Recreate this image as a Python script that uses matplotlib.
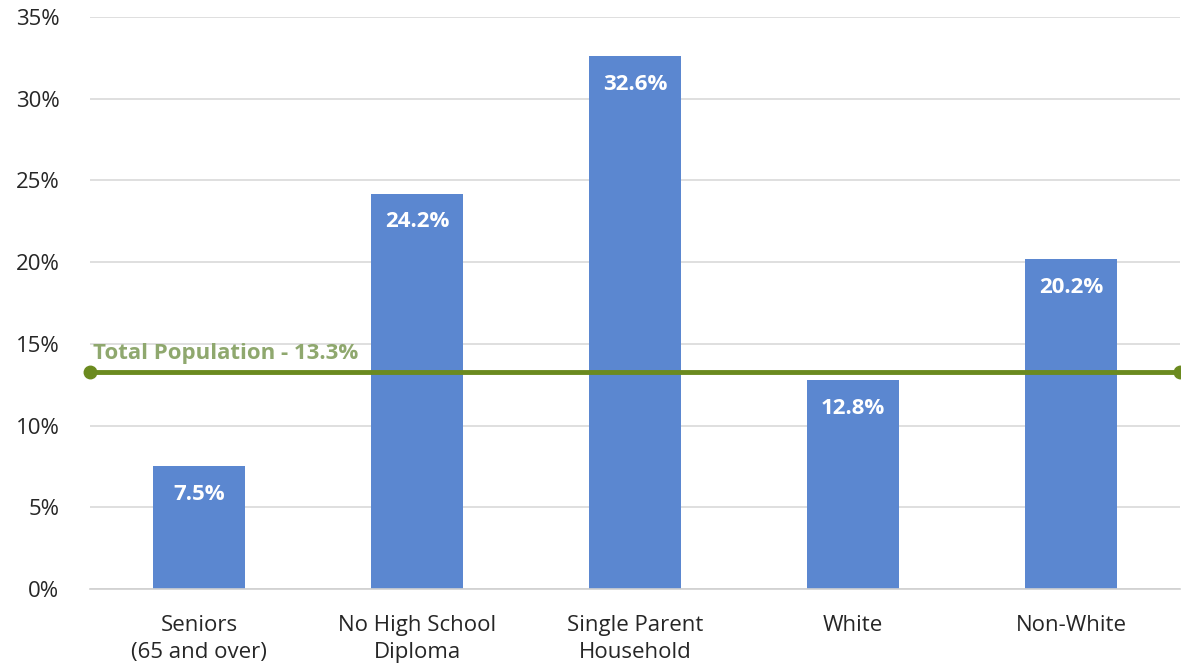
import matplotlib
matplotlib.use("Agg")
import matplotlib.pyplot as plt
from matplotlib.ticker import PercentFormatter

plt.rcParams['font.family'] = ['Open Sans', 'DejaVu Sans']

categories = ["Seniors\n(65 and over)", "No High School\nDiploma", "Single Parent\nHousehold", "White", "Non-White"]
rates = [7.5, 24.2, 32.6, 12.8, 20.2]
total_rate = 13.3
total_label = "Total Population - 13.3%"
y_ticks = [0, 5, 10, 15, 20, 25, 30, 35]

bar_color = "#5b87d0"
line_color = "#6b8a1f"
label_color = "#8fa86e"

fig = plt.figure(figsize=(11.81, 6.66), dpi=100)
ax = fig.add_axes([90 / 1181, 77 / 666, 1090 / 1181, 572 / 666])

x = list(range(len(categories)))
bars = ax.bar(x, rates, width=0.42, color=bar_color, zorder=2)
for xi, v in zip(x, rates):
    ax.text(xi, v - 1.1, f"{v:.1f}%", ha="center", va="top", color="white",
            fontsize=16, fontweight="bold", zorder=3)

ax.plot([-0.5, len(categories) - 0.5], [total_rate, total_rate], color=line_color,
        lw=3.5, marker="o", markersize=9, zorder=4, clip_on=False)
ax.text(-0.487, total_rate + 0.45, total_label, color=label_color, fontsize=16,
        fontweight="bold", ha="left", va="bottom", zorder=4)

ax.set_xlim(-0.5, len(categories) - 0.5)
ax.set_ylim(0, 35)
ax.set_yticks(y_ticks)
ax.yaxis.set_major_formatter(PercentFormatter(decimals=0))
ax.set_xticks(x)
ax.set_xticklabels(categories, fontsize=16, color="#262626", linespacing=1.32)
ax.tick_params(axis="y", labelsize=16, colors="#262626", length=0, pad=22)
ax.tick_params(axis="x", length=0, pad=19)
ax.grid(axis="y", color="#d9d9d9", lw=1.2, zorder=0)
ax.set_axisbelow(True)
for s in ["top", "right", "left"]:
    ax.spines[s].set_visible(False)
ax.spines["bottom"].set_color("#d0d0d0")
ax.spines["bottom"].set_linewidth(1.2)

fig.savefig("out.png", dpi=100)
